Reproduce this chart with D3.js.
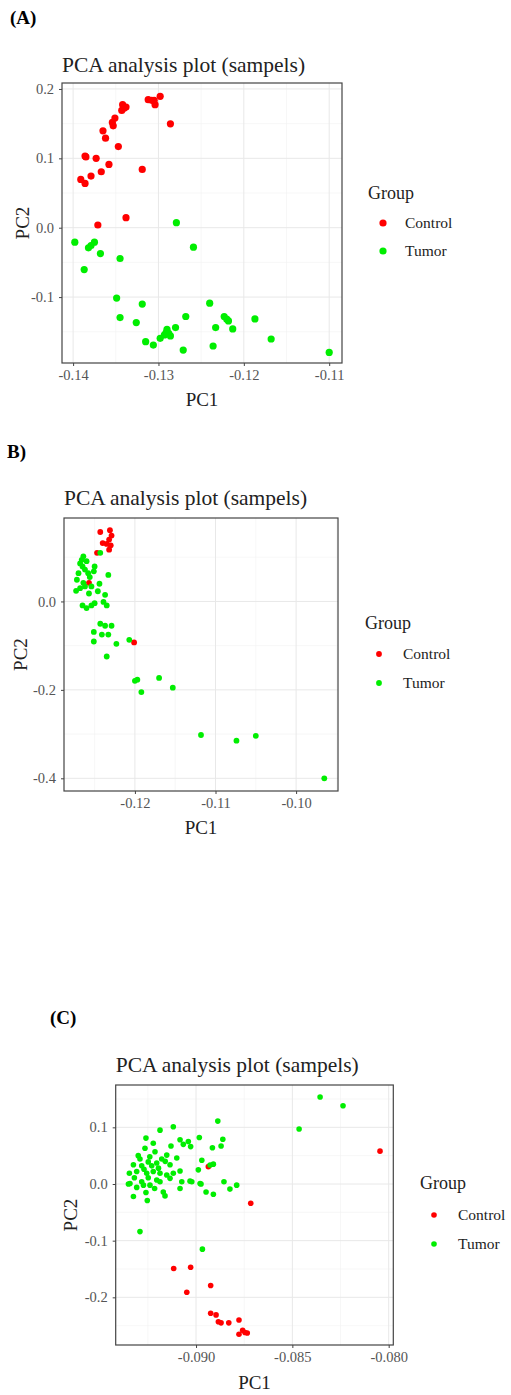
<!DOCTYPE html>
<html>
<head>
<meta charset="utf-8">
<script src="https://cdn.jsdelivr.net/npm/d3@7"></script>
<style>
  body { margin: 0; background: #fff; }
  svg { display: block; }
</style>
</head>
<body>
<div id="chart"></div>
<script>
// PC1/PC2 scores, one array per panel and group
const controlA = [
  [-0.1391, 0.0696], [-0.1386, 0.0638], [-0.1386, 0.1034], [-0.1385, 0.1020], [-0.1379, 0.0744],
  [-0.1373, 0.1000], [-0.1367, 0.0807], [-0.1358, 0.0913], [-0.1365, 0.1396], [-0.1362, 0.1290],
  [-0.1354, 0.1517], [-0.1353, 0.1469], [-0.1351, 0.1580], [-0.1347, 0.1169], [-0.1342, 0.1773],
  [-0.1340, 0.1725], [-0.1338, 0.1740], [-0.1343, 0.1690], [-0.1319, 0.0840], [-0.1312, 0.1845],
  [-0.1308, 0.1836], [-0.1304, 0.1773], [-0.1305, 0.1836], [-0.1298, 0.1894], [-0.1286, 0.1498],
  [-0.1371, 0.0039], [-0.1338, 0.0145]
];
const tumorA = [
  [-0.1398, -0.0208], [-0.1387, -0.0604], [-0.1382, -0.0290], [-0.1379, -0.0256], [-0.1375, -0.0208],
  [-0.1368, -0.0372], [-0.1345, -0.0444], [-0.1349, -0.1014], [-0.1345, -0.1295], [-0.1326, -0.1367],
  [-0.1319, -0.1101], [-0.1315, -0.1643], [-0.1306, -0.1691], [-0.1298, -0.1594], [-0.1293, -0.1546],
  [-0.1290, -0.1464], [-0.1291, -0.1512], [-0.1288, -0.1522], [-0.1286, -0.1560], [-0.1280, -0.1440],
  [-0.1279, 0.0072], [-0.1271, -0.1763], [-0.1268, -0.1280], [-0.1259, -0.0280], [-0.1240, -0.1087],
  [-0.1236, -0.1705], [-0.1233, -0.1440], [-0.1223, -0.1280], [-0.1220, -0.1319], [-0.1218, -0.1343],
  [-0.1213, -0.1459], [-0.1187, -0.1314], [-0.1168, -0.1604], [-0.1100, -0.1797]
];

const controlB = [
  [-0.1243, 0.157], [-0.1231, 0.161], [-0.1229, 0.149], [-0.1232, 0.140], [-0.1235, 0.130],
  [-0.1230, 0.127], [-0.1232, 0.117], [-0.1240, 0.132], [-0.1247, 0.110], [-0.1257, 0.042],
  [-0.1201, -0.0928]
];
const tumorB = [
  [-0.1243, 0.110], [-0.1264, 0.102], [-0.1266, 0.094], [-0.1260, 0.091], [-0.1265, 0.079],
  [-0.1250, 0.079], [-0.1270, 0.064], [-0.1258, 0.064], [-0.1251, 0.068], [-0.1233, 0.060],
  [-0.1272, 0.049], [-0.1264, 0.042], [-0.1262, 0.034], [-0.1254, 0.034], [-0.1244, 0.040],
  [-0.1273, 0.024], [-0.1246, 0.023], [-0.1237, 0.015], [-0.1265, -0.009], [-0.1260, -0.015],
  [-0.1254, -0.009], [-0.1250, -0.004], [-0.1239, -0.001], [-0.1235, -0.009],
  [-0.1268, 0.086], [-0.1262, 0.072], [-0.1256, 0.055], [-0.1268, 0.030], [-0.1257, 0.018],
  [-0.1243, -0.0505], [-0.1237, -0.055], [-0.1229, -0.055], [-0.1251, -0.069], [-0.1241, -0.075],
  [-0.1233, -0.075], [-0.1251, -0.0906], [-0.1223, -0.0958], [-0.1207, -0.0867], [-0.1235, -0.1245],
  [-0.1200, -0.1795], [-0.1197, -0.177], [-0.1170, -0.173], [-0.1192, -0.205], [-0.1153, -0.195],
  [-0.1118, -0.302], [-0.1074, -0.315], [-0.1050, -0.304], [-0.0965, -0.400]
];

const controlC = [
  [-0.08936, 0.0306], [-0.08716, -0.034], [-0.09116, -0.149], [-0.09028, -0.147], [-0.08924, -0.179],
  [-0.09048, -0.191], [-0.08924, -0.228], [-0.08896, -0.231], [-0.08884, -0.243], [-0.08870, -0.245],
  [-0.08830, -0.245], [-0.08777, -0.240], [-0.08777, -0.265], [-0.08758, -0.258], [-0.08746, -0.262],
  [-0.08734, -0.263], [-0.08045, 0.058]
];
const tumorC = [
  [-0.08887, 0.111], [-0.09187, 0.095], [-0.09118, 0.101], [-0.09260, 0.081], [-0.08983, 0.082],
  [-0.08861, 0.079], [-0.09083, 0.078], [-0.09040, 0.075], [-0.09066, 0.070], [-0.08870, 0.067],
  [-0.08915, 0.064], [-0.09028, 0.066], [-0.09130, 0.067], [-0.09222, 0.072], [-0.09265, 0.063],
  [-0.09213, 0.057], [-0.09152, 0.051], [-0.09178, 0.044], [-0.09291, 0.044], [-0.09248, 0.039],
  [-0.09204, 0.037], [-0.09135, 0.034], [-0.09325, 0.034], [-0.09282, 0.032], [-0.09230, 0.032],
  [-0.08970, 0.042], [-0.08910, 0.035], [-0.08927, 0.0335], [-0.09083, 0.023], [-0.09118, 0.019],
  [-0.09152, 0.016], [-0.09187, 0.019], [-0.09222, 0.022], [-0.09256, 0.019], [-0.09308, 0.022],
  [-0.09346, 0.019], [-0.08988, 0.025], [-0.09204, 0.007], [-0.09074, 0.004], [-0.09031, 0.005],
  [-0.09135, 0.010], [-0.09282, 0.004], [-0.09343, 0.001], [-0.09248, 0.011], [-0.08855, 0.004],
  [-0.08979, 0.001], [-0.08789, -0.002], [-0.08824, -0.009], [-0.09351, 0.000], [-0.09308, -0.006],
  [-0.09273, -0.002], [-0.09239, -0.002], [-0.09187, 0.004], [-0.09083, -0.008], [-0.09022, 0.004],
  [-0.08974, 0.000], [-0.08948, -0.014], [-0.08910, -0.018], [-0.09325, -0.022], [-0.09260, -0.015],
  [-0.09253, -0.029], [-0.09170, -0.014], [-0.09161, -0.021], [-0.09291, -0.084], [-0.08967, -0.115],
  [-0.09300, 0.050], [-0.09240, 0.048], [-0.09195, 0.028], [-0.09160, 0.040], [-0.09100, 0.046],
  [-0.09270, 0.026], [-0.09320, 0.011], [-0.09215, -0.008],
  [-0.08356, 0.1535], [-0.08237, 0.138], [-0.08465, 0.097]
];

const groups = ['Control', 'Tumor'];
const groupColors = ['#ff0000', '#00ee00'];

const ticksXA = [-0.14, -0.13, -0.12, -0.11];
const minorXA = [-0.135, -0.125, -0.115];
const ticksYA = [0.2, 0.1, 0.0, -0.1];
const minorYA = [0.15, 0.05, -0.05, -0.15];

const ticksXB = [-0.12, -0.11, -0.10];
const minorXB = [-0.125, -0.115, -0.105, -0.095];
const ticksYB = [0.0, -0.2, -0.4];
const minorYB = [0.1, -0.1, -0.3];

const ticksXC = [-0.090, -0.085, -0.080];
const minorXC = [-0.0925, -0.0875, -0.0825];
const ticksYC = [0.1, 0.0, -0.1, -0.2];
const minorYC = [0.15, 0.05, -0.05, -0.15, -0.25];

const titleText = 'PCA analysis plot (sampels)';
const serif = '"Liberation Serif", "Times New Roman", serif';

const panels = [
  {label: '(A)', labelX: 10, labelY: 24, left: 62, top: 83, right: 342, bottom: 363,
   xDomain: [-0.1413, -0.1085], yDomain: [-0.195, 0.2086],
   xTicks: ticksXA, xMinor: minorXA, yTicks: ticksYA, yMinor: minorYA, xFmt: '.2f', yFmt: '.1f',
   data: [controlA, tumorA], r: 3.6, titleY: 72, pc1Y: 406, pc2X: 22,
   legX: 368, legY: 199, legDotX: 383, legTextX: 405, legRows: [223, 251]},
  {label: 'B)', labelX: 7, labelY: 458, left: 64, top: 518, right: 338, bottom: 791,
   xDomain: [-0.1288, -0.0948], yDomain: [-0.4287, 0.1887],
   xTicks: ticksXB, xMinor: minorXB, yTicks: ticksYB, yMinor: minorYB, xFmt: '.2f', yFmt: '.1f',
   data: [controlB, tumorB], r: 2.9, titleY: 505, pc1Y: 834, pc2X: 20,
   legX: 365, legY: 629, legDotX: 379, legTextX: 403, legRows: [654, 683]},
  {label: '(C)', labelX: 50, labelY: 1024, left: 115.7, top: 1085, right: 393.3, bottom: 1345,
   xDomain: [-0.09417, -0.07976], yDomain: [-0.2841, 0.1747],
   xTicks: ticksXC, xMinor: minorXC, yTicks: ticksYC, yMinor: minorYC, xFmt: '.3f', yFmt: '.1f',
   data: [controlC, tumorC], r: 2.8, titleY: 1072, pc1Y: 1389, pc2X: 70,
   legX: 420, legY: 1189, legDotX: 434, legTextX: 458, legRows: [1215, 1244]}
];

const svg = d3.select('#chart').append('svg')
  .attr('width', 511)
  .attr('height', 1395);

svg.append('rect').attr('width', 511).attr('height', 1395).attr('fill', '#fff');

const hyphen = (fmt) => (d) => d3.format(fmt)(d).replace('\u2212', '-');

panels.forEach((p) => {
  const x = d3.scaleLinear().domain(p.xDomain).range([p.left, p.right]);
  const y = d3.scaleLinear().domain(p.yDomain).range([p.bottom, p.top]);
  const g = svg.append('g');

  // panel label and title
  g.append('text')
    .attr('x', p.labelX).attr('y', p.labelY)
    .style('font-family', serif).style('font-size', '19px').style('font-weight', 'bold')
    .text(p.label);
  g.append('text')
    .attr('x', p.left).attr('y', p.titleY)
    .style('font-family', serif).style('font-size', '21.5px').attr('fill', '#222')
    .text(titleText);

  // grid lines
  const grid = g.append('g');
  grid.selectAll('.xminor').data(p.xMinor).enter().append('line')
    .attr('x1', (d) => x(d)).attr('x2', (d) => x(d)).attr('y1', p.top).attr('y2', p.bottom)
    .attr('stroke', '#f2f2f2').attr('stroke-width', 0.6);
  grid.selectAll('.yminor').data(p.yMinor).enter().append('line')
    .attr('y1', (d) => y(d)).attr('y2', (d) => y(d)).attr('x1', p.left).attr('x2', p.right)
    .attr('stroke', '#f2f2f2').attr('stroke-width', 0.6);
  grid.selectAll('.xmajor').data(p.xTicks).enter().append('line')
    .attr('x1', (d) => x(d)).attr('x2', (d) => x(d)).attr('y1', p.top).attr('y2', p.bottom)
    .attr('stroke', '#e8e8e8').attr('stroke-width', 1);
  grid.selectAll('.ymajor').data(p.yTicks).enter().append('line')
    .attr('y1', (d) => y(d)).attr('y2', (d) => y(d)).attr('x1', p.left).attr('x2', p.right)
    .attr('stroke', '#e8e8e8').attr('stroke-width', 1);

  // points
  p.data.forEach((series, i) => {
    g.append('g').selectAll('circle').data(series).enter().append('circle')
      .attr('cx', (d) => x(d[0]))
      .attr('cy', (d) => y(d[1]))
      .attr('r', p.r)
      .attr('fill', groupColors[i]);
  });

  // border
  g.append('rect')
    .attr('x', p.left).attr('y', p.top)
    .attr('width', p.right - p.left).attr('height', p.bottom - p.top)
    .attr('fill', 'none').attr('stroke', '#444').attr('stroke-width', 1.2);

  // axes
  const xAxis = g.append('g')
    .attr('transform', 'translate(0,' + p.bottom + ')')
    .call(d3.axisBottom(x).tickValues(p.xTicks).tickSize(3).tickPadding(4).tickFormat(hyphen(p.xFmt)));
  const yAxis = g.append('g')
    .attr('transform', 'translate(' + p.left + ',0)')
    .call(d3.axisLeft(y).tickValues(p.yTicks).tickSize(3).tickPadding(5).tickFormat(hyphen(p.yFmt)));
  [xAxis, yAxis].forEach((a) => {
    a.select('.domain').remove();
    a.selectAll('line').attr('stroke', '#444');
    a.selectAll('text').attr('fill', '#555').style('font-family', serif).style('font-size', '14.5px');
  });

  // axis titles
  g.append('text')
    .attr('x', (p.left + p.right) / 2).attr('y', p.pc1Y)
    .attr('text-anchor', 'middle')
    .style('font-family', serif).style('font-size', '19px').attr('fill', '#222')
    .text('PC1');
  g.append('text')
    .attr('transform', 'translate(' + p.pc2X + ',' + (p.top + p.bottom) / 2 + ')rotate(-90)')
    .attr('text-anchor', 'middle').attr('dy', '0.35em')
    .style('font-family', serif).style('font-size', '19px').attr('fill', '#222')
    .text('PC2');

  // legend
  g.append('text')
    .attr('x', p.legX).attr('y', p.legY)
    .style('font-family', serif).style('font-size', '18px').attr('fill', '#222')
    .text('Group');
  groups.forEach((name, i) => {
    g.append('circle')
      .attr('cx', p.legDotX).attr('cy', p.legRows[i]).attr('r', p.r)
      .attr('fill', groupColors[i]);
    g.append('text')
      .attr('x', p.legTextX).attr('y', p.legRows[i]).attr('dy', '0.35em')
      .style('font-family', serif).style('font-size', '15.5px').attr('fill', '#222')
      .text(name);
  });
});
</script>
</body>
</html>
